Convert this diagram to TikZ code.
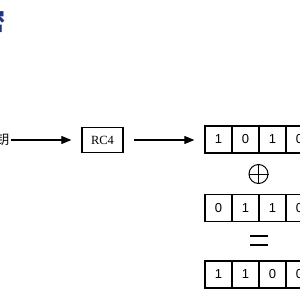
\documentclass[tikz,border=0pt]{standalone}
\usepackage{fontspec}
\setmainfont{Liberation Serif}
\setsansfont{Liberation Sans}
\newfontfamily\cjk{Noto Sans CJK SC}
\usetikzlibrary{arrows.meta}
\definecolor{titleblue}{RGB}{30,52,125}
\tikzset{
  cell/.style={draw, line width=1.3pt, minimum width=27pt, minimum height=27pt, inner sep=0pt, font=\sffamily\fontsize{13}{13}\selectfont},
  rcbox/.style={draw, line width=1.3pt, minimum width=41pt, minimum height=25pt, inner sep=0pt, font=\fontsize{12.5}{13}\selectfont},
  conn/.style={line width=1.1pt, -{Triangle[length=10pt,width=8pt]}},
  xorsym/.style={circle, draw, line width=1pt, minimum size=19pt, inner sep=0pt},
}
\begin{document}
\begin{tikzpicture}[x=1pt,y=-1pt]
\useasboundingbox (0,0) rectangle (300,300);
\clip (0,0) rectangle (300,300);
\fill[white] (0,0) rectangle (300,300);
% title fragment
\node[anchor=east, inner sep=0pt, text=titleblue, font=\cjk\bfseries\fontsize{24}{24}\selectfont] (title) at (6,21) {密};
% key label fragment
\node[anchor=east, inner sep=0pt, font=\cjk\fontsize{13}{13}\selectfont] (key) at (9.5,140) {钥};
\node[rcbox] (rc4) at (102.5,140) {RC4};
% rows
\foreach \r/\y/\a/\b/\c/\d in {1/139.5/1/0/1/0, 2/208/0/1/1/0, 3/274.5/1/1/0/0}{
  \node[cell] (r\r c1) at (218.5,\y) {\a};
  \node[cell] (r\r c2) at (245.5,\y) {\b};
  \node[cell] (r\r c3) at (272.5,\y) {\c};
  \node[cell] (r\r c4) at (299.5,\y) {\d};
}
\draw[conn, shorten <=1pt, shorten >=10pt] (key.east) -- (rc4.west);
\draw[conn, shorten <=10pt, shorten >=10pt] (rc4.east) -- (rc4.east -| r1c1.west);
% xor symbol
\node[xorsym] (xor) at (258.5,174) {};
\draw[line width=1pt] (xor.north) -- (xor.south) (xor.west) -- (xor.east);
% equals sign
\coordinate (eqa) at (250,236);
\coordinate (eqb) at (268,236);
\coordinate (eqc) at (250,245);
\coordinate (eqd) at (268,245);
\draw[line width=1.8pt] (eqa) -- (eqb) (eqc) -- (eqd);
\end{tikzpicture}
\end{document}
